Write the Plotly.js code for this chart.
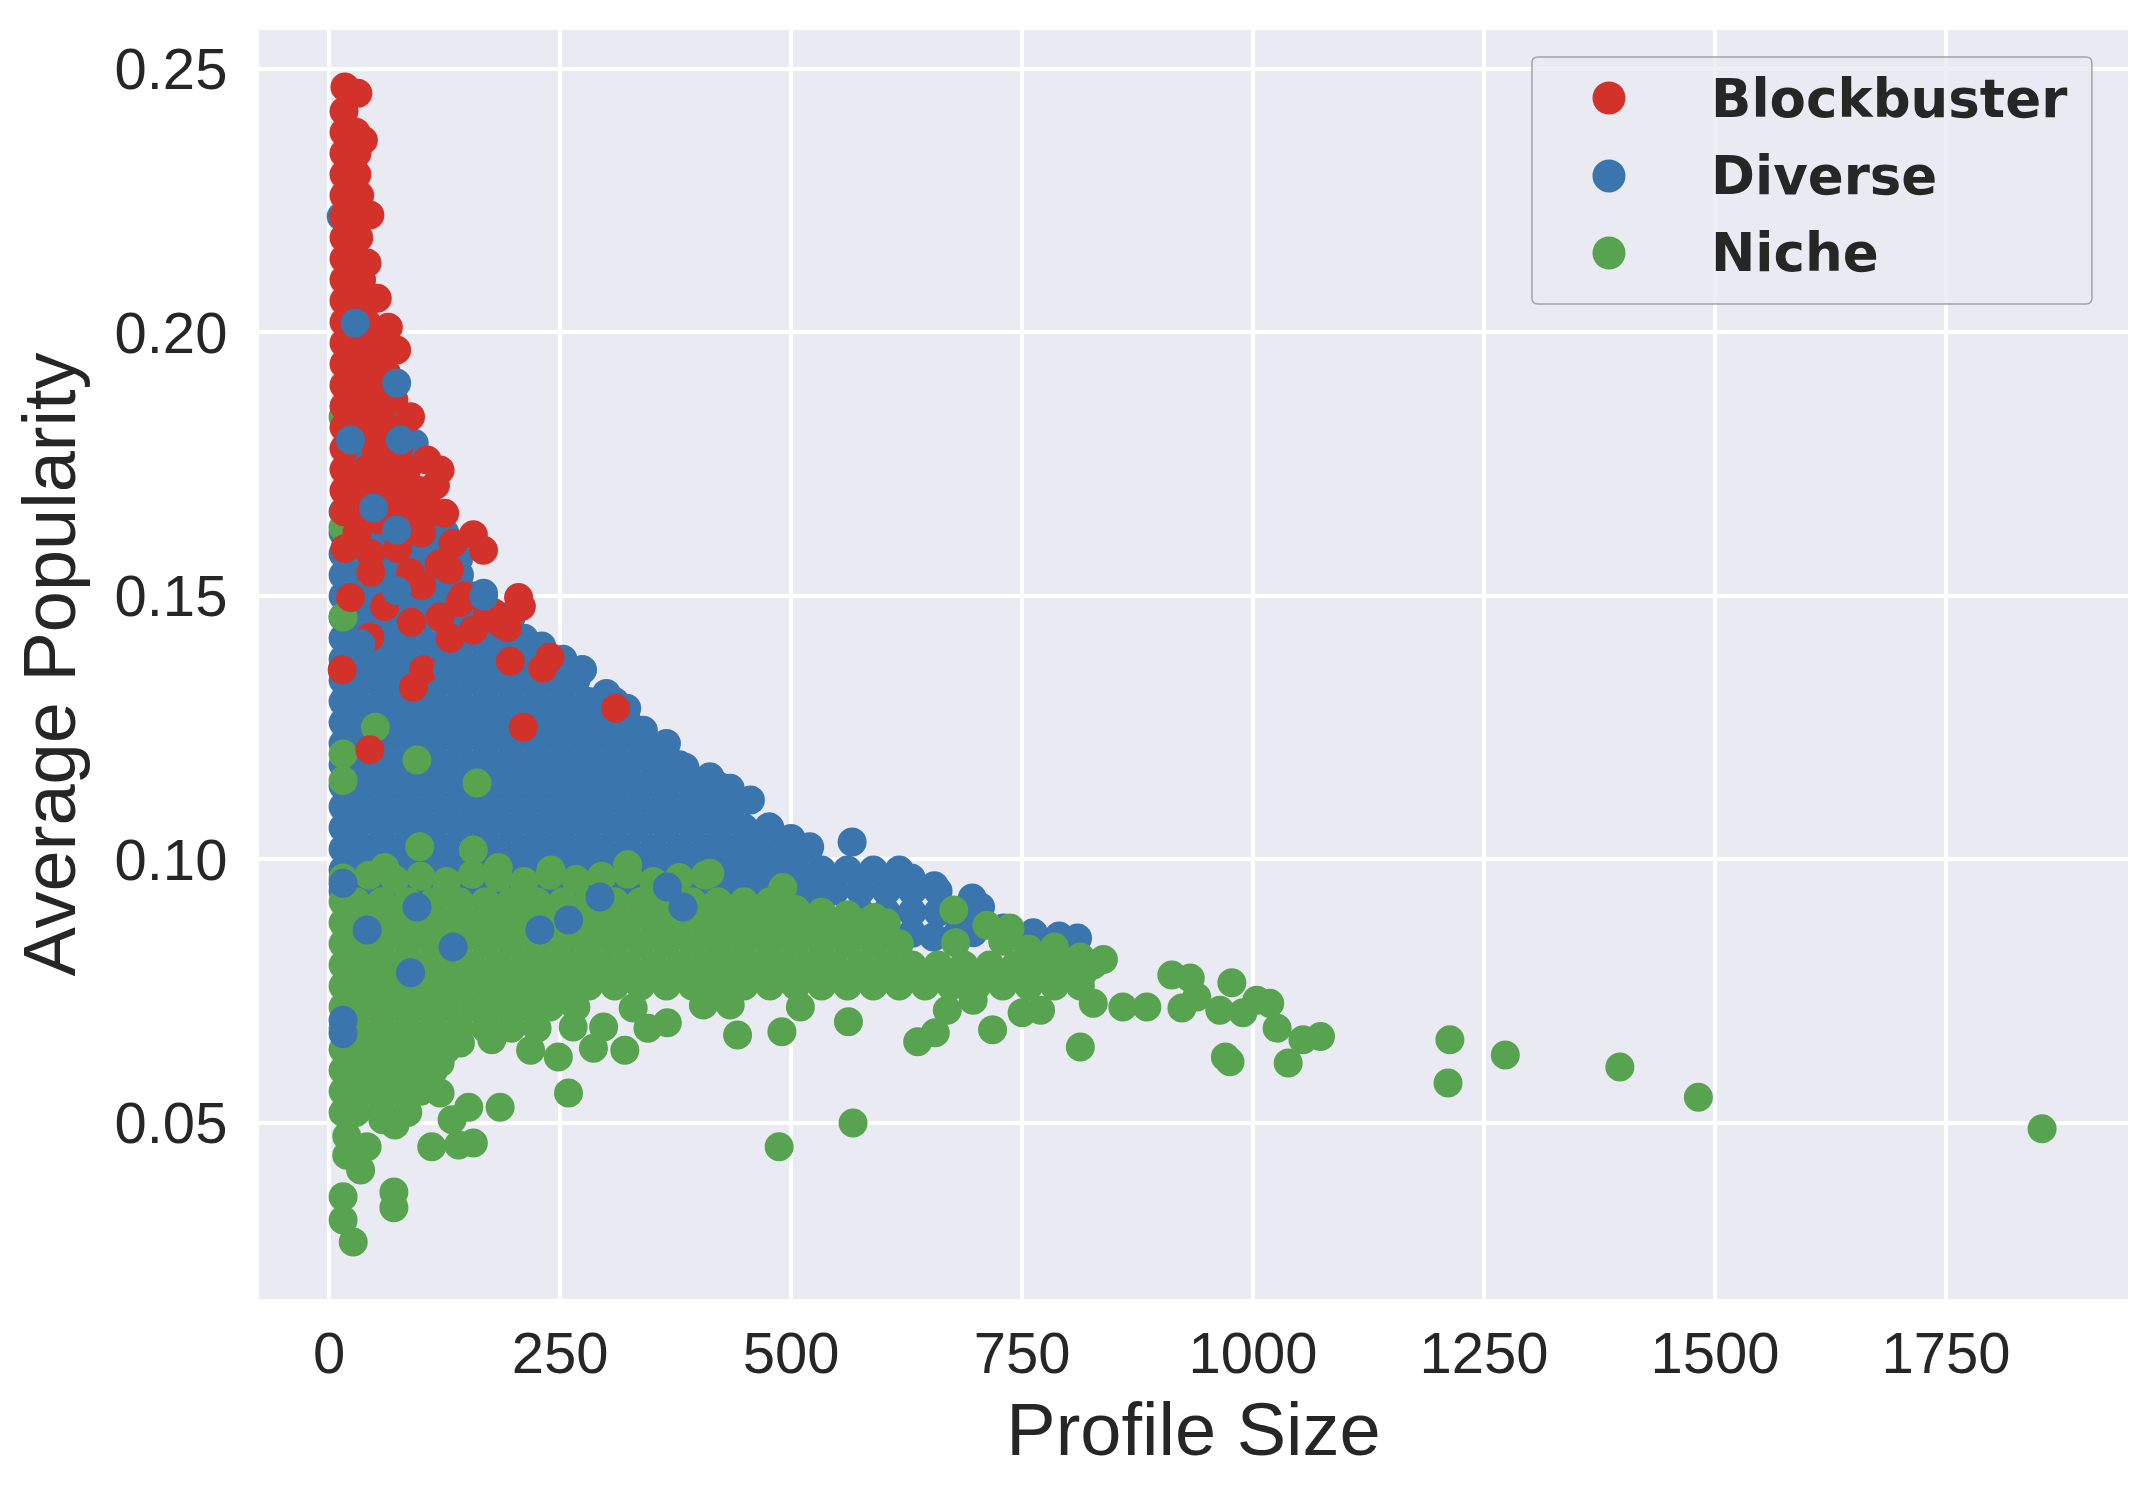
<!DOCTYPE html>
<html>
<head>
<meta charset="utf-8">
<script src="https://cdn.plot.ly/plotly-3.0.1.min.js"></script>
<style>
  html, body { margin: 0; padding: 0; background: #ffffff; }
  #chart { width: 2149px; height: 1499px; }
</style>
</head>
<body>
<div id="chart"></div>
<script>
// Profile size vs average popularity.
// Each entry is [profile size, average popularity].

const diversePoints = [
  [15,0.094],[43,0.094],[71,0.094],[99,0.094],[127,0.094],[155,0.094],[183,0.094],[211,0.094],[239,0.094],[267,0.094],[295,0.094],[323,0.094],[351,0.094],
  [379,0.094],[407,0.094],[435,0.094],[463,0.094],[491,0.094],[519,0.094],[547,0.094],[575,0.094],[603,0.094],[631,0.094],[659,0.094],
  [15,0.098],[29,0.098],[57,0.098],[85,0.098],[113,0.098],[141,0.098],[169,0.098],[197,0.098],[225,0.098],[253,0.098],[281,0.098],[309,0.098],[337,0.098],[365,0.098],[393,0.098],[421,0.098],[449,0.098],[477,0.098],[505,0.098],[533,0.098],[561,0.098],[589,0.098],[617,0.098],
  [15,0.102],[43,0.102],[71,0.102],[99,0.102],[127,0.102],[155,0.102],[183,0.102],[211,0.102],[239,0.102],[267,0.102],[295,0.102],[323,0.102],[351,0.102],[379,0.102],[407,0.102],[435,0.102],[463,0.102],[491,0.102],[519,0.102],
  [15,0.106],[29,0.106],[57,0.106],[85,0.106],[113,0.106],[141,0.106],[169,0.106],[197,0.106],[225,0.106],[253,0.106],[281,0.106],[309,0.106],[337,0.106],[365,0.106],[393,0.106],[421,0.106],[449,0.106],[477,0.106],
  [15,0.110],[43,0.110],[71,0.110],[99,0.110],[127,0.110],[155,0.110],[183,0.110],[211,0.110],[239,0.110],[267,0.110],[295,0.110],[323,0.110],[351,0.110],[379,0.110],[407,0.110],[435,0.110],
  [15,0.114],[29,0.114],[57,0.114],[85,0.114],[113,0.114],[141,0.114],[169,0.114],[197,0.114],[225,0.114],[253,0.114],[281,0.114],[309,0.114],[337,0.114],[365,0.114],[393,0.114],[421,0.114],
  [15,0.118],[43,0.118],[71,0.118],[99,0.118],[127,0.118],[155,0.118],[183,0.118],[211,0.118],[239,0.118],[267,0.118],[295,0.118],[323,0.118],[351,0.118],[379,0.118],
  [15,0.122],[29,0.122],[57,0.122],[85,0.122],[113,0.122],[141,0.122],[169,0.122],[197,0.122],[225,0.122],[253,0.122],[281,0.122],[309,0.122],[337,0.122],[365,0.122],
  [15,0.126],[43,0.126],[71,0.126],[99,0.126],[127,0.126],[155,0.126],[183,0.126],[211,0.126],[239,0.126],[267,0.126],[295,0.126],[323,0.126],
  [15,0.130],[29,0.130],[57,0.130],[85,0.130],[113,0.130],[141,0.130],[169,0.130],[197,0.130],[225,0.130],[253,0.130],[281,0.130],[309,0.130],
  [15,0.134],[43,0.134],[71,0.134],[99,0.134],[127,0.134],[155,0.134],[183,0.134],[211,0.134],[239,0.134],[267,0.134],
  [15,0.138],[29,0.138],[57,0.138],[85,0.138],[113,0.138],[141,0.138],[169,0.138],[197,0.138],[225,0.138],[253,0.138],
  [15,0.142],[43,0.142],[71,0.142],[99,0.142],[127,0.142],[155,0.142],[183,0.142],[211,0.142],
  [15,0.146],[29,0.146],[57,0.146],[85,0.146],[113,0.146],[141,0.146],[169,0.146],[197,0.146],
  [15,0.150],[43,0.150],[71,0.150],[99,0.150],[127,0.150],[155,0.150],
  [15,0.154],[29,0.154],[57,0.154],[85,0.154],[113,0.154],[141,0.154],
  [15,0.158],[43,0.158],[71,0.158],[99,0.158],[127,0.158],
  [15,0.162],[29,0.162],[57,0.162],[85,0.162],[113,0.162],
  [15,0.166],[43,0.166],[71,0.166],[99,0.166],
  [29,0.170],[57,0.170],[85,0.170],
  [43,0.174],[71,0.174],
  [29,0.178],[57,0.178],[85,0.178],
  [43,0.182],[71,0.182],
  [29,0.186],[57,0.186],
  [43,0.190],[71,0.190],
  [29,0.194],
  [43,0.198],
  [29,0.202],
  [13,0.222],
  // upper right edge of the cloud
  [92,0.179],[125,0.162],[140,0.157],[167,0.1505],[190,0.146],[230,0.1405],[274,0.136],[300,0.1315],
  [322,0.1287],[340,0.1245],[362,0.1205],[385,0.1175],[412,0.1157],[434,0.1135],[456,0.1113],[476,0.1062],
  [500,0.104],[520,0.1024],[566,0.1033],[618,0.0974],[630,0.0965],[655,0.095],[696,0.0927],[705,0.091],
  [575,0.090],[603,0.090],[631,0.090],[659,0.090],[687,0.089],
  [631,0.086],[654,0.0853],[680,0.086],[697,0.0861],[730,0.087],[762,0.0861],[790,0.0855],[810,0.0851]
];

// Diverse users that sit on top of the other groups
const diverseFrontPoints = [
  [28,0.2018],[73,0.1904],[77,0.1796],[23,0.1796],[48,0.1667],[73,0.1625],[73,0.151],[34,0.141],
  [128,0.136],[167,0.150],[274,0.136],
  [15,0.0955],[95,0.091],[41,0.0866],[228,0.0866],[259,0.0885],[134,0.0834],[88,0.0785],
  [293,0.0929],[366,0.0948],[383,0.091],[15,0.0695],[15,0.067]
];

const nichePoints = [
  [15,0.0965],[43,0.097],[71,0.0962],[99,0.0968],[127,0.0958],[155,0.0972],[183,0.0966],[211,0.0958],[239,0.097],[267,0.0962],[295,0.0968],[323,0.0972],[351,0.0958],[379,0.0966],[407,0.097],
  [183,0.0985],[240,0.098],[323,0.099],[60,0.0985],
  [15,0.092],[29,0.092],[57,0.092],[85,0.092],[113,0.092],[141,0.092],[169,0.092],[197,0.092],[225,0.092],[253,0.092],[281,0.092],[309,0.092],[337,0.092],[365,0.092],[393,0.092],[421,0.092],[449,0.092],[477,0.092],
  [505,0.0905],[533,0.090],[561,0.0895],[590,0.089],
  [15,0.088],[43,0.088],[71,0.088],[99,0.088],[127,0.088],[155,0.088],[183,0.088],[211,0.088],[239,0.088],[267,0.088],[295,0.088],[323,0.088],[351,0.088],[379,0.088],[407,0.088],[435,0.088],[463,0.088],[491,0.088],[519,0.088],[547,0.088],[575,0.088],[603,0.088],
  [676,0.0904],[712,0.0875],[737,0.087],
  [15,0.084],[29,0.084],[57,0.084],[85,0.084],[113,0.084],[141,0.084],[169,0.084],[197,0.084],[225,0.084],[253,0.084],[281,0.084],[309,0.084],[337,0.084],[365,0.084],[393,0.084],[421,0.084],[449,0.084],[477,0.084],[505,0.084],[533,0.084],[561,0.084],[589,0.084],[617,0.084],
  [678,0.0842],[729,0.0845],[757,0.083],[785,0.0834],[813,0.0815],[838,0.081],
  [15,0.080],[43,0.080],[71,0.080],[99,0.080],[127,0.080],[155,0.080],[183,0.080],[211,0.080],[239,0.080],[267,0.080],[295,0.080],[323,0.080],[351,0.080],[379,0.080],[407,0.080],[435,0.080],[463,0.080],[491,0.080],[519,0.080],[547,0.080],[575,0.080],[603,0.080],[631,0.080],[659,0.080],[687,0.080],[715,0.080],[743,0.080],[771,0.080],[799,0.080],[827,0.080],
  [15,0.076],[29,0.076],[57,0.076],[85,0.076],[113,0.076],[141,0.076],[169,0.076],[197,0.076],[225,0.076],[253,0.076],[281,0.076],[309,0.076],[337,0.076],[365,0.076],[393,0.076],[421,0.076],[449,0.076],[477,0.076],[505,0.076],[533,0.076],[561,0.076],[589,0.076],[617,0.076],[645,0.076],[673,0.076],[701,0.076],[729,0.076],[757,0.076],[785,0.076],[813,0.076],
  [15,0.072],[43,0.072],[71,0.072],[99,0.072],[127,0.072],[155,0.072],[183,0.072],[211,0.072],[239,0.072],[267,0.072],
  [15,0.068],[29,0.068],[57,0.068],[85,0.068],[113,0.068],[141,0.068],[169,0.068],[197,0.068],[225,0.068],
  [15,0.064],[43,0.064],[71,0.064],[99,0.064],[127,0.064],
  [15,0.060],[29,0.060],[57,0.060],[85,0.060],[113,0.060],
  [15,0.056],[43,0.056],[71,0.056],[99,0.056],
  [15,0.052],[29,0.052],[57,0.052],[85,0.052],
  // sparse points under the band and the long tail
  [19,0.0475],[19,0.0439],[34,0.0411],[41,0.0455],[71,0.0496],[58,0.0506],[15,0.036],[15,0.0316],[26,0.0274],
  [70,0.0369],[70,0.0339],[111,0.0455],[140,0.0458],[156,0.0462],[133,0.0506],[151,0.053],[185,0.053],
  [120,0.0557],[120,0.0614],[259,0.0557],[142,0.0652],[176,0.0658],[218,0.0638],[248,0.0625],[286,0.0642],
  [320,0.0638],[264,0.0682],[297,0.0682],[345,0.068],[366,0.069],[329,0.0718],[405,0.0724],[434,0.0724],
  [442,0.0667],[490,0.0673],[510,0.072],[562,0.0692],[637,0.0654],[656,0.0671],[669,0.0714],[697,0.0733],
  [718,0.0677],[750,0.0709],[770,0.0714],[813,0.0644],[827,0.0727],[859,0.072],[885,0.072],[816,0.0785],
  [912,0.0781],[932,0.0775],[923,0.0718],[939,0.0739],[964,0.0714],[977,0.0766],[989,0.0709],[1004,0.0733],
  [1018,0.0727],[1026,0.068],[970,0.0625],[975,0.0616],[1038,0.0614],[1054,0.0658],[1073,0.0664],
  [1211,0.0576],[1213,0.0658],[1273,0.0629],[1397,0.0606],[1482,0.0549],[1854,0.0489],[487,0.0455],[567,0.050],
  // niche users poking into the diverse cloud
  [98,0.1024],[156,0.1018],[295,0.0967],[412,0.0974],[491,0.0947],[50,0.1251],[95,0.1189],[160,0.1145],
  [15,0.146],[15,0.163],[15,0.115],[15,0.184],[15,0.12]
];

const blockbusterPoints = [
  [17,0.2466],[31,0.2454],[16,0.242],[16,0.238],[29,0.238],[37,0.2365],[16,0.234],[30,0.234],
  [16,0.230],[30,0.230],[16,0.226],[33,0.226],[16,0.222],[30,0.222],[44,0.2223],[16,0.218],[32,0.218],
  [16,0.214],[30,0.214],[41,0.2132],[16,0.210],[35,0.210],[16,0.206],[30,0.206],[52,0.2065],
  [16,0.202],[40,0.202],[64,0.201],[16,0.198],[37,0.198],[58,0.198],[73,0.1967],
  [16,0.194],[28,0.194],[48,0.194],[62,0.1923],[16,0.190],[40,0.190],[62,0.190],[16,0.186],[30,0.186],[50,0.186],[70,0.1872],
  [16,0.182],[40,0.182],[62,0.182],[88,0.184],[16,0.178],[50,0.178],[75,0.178],
  [16,0.174],[40,0.174],[62,0.174],[84,0.174],[106,0.1758],[120,0.1739],
  [16,0.170],[30,0.170],[52,0.170],[75,0.170],[98,0.170],[115,0.171],
  [16,0.166],[42,0.166],[65,0.166],[88,0.166],[112,0.166],[125,0.1657],
  [30,0.162],[55,0.1644],[77,0.1612],[100,0.162],[134,0.160],[156,0.1616],[167,0.1587],
  [17,0.159],[45,0.158],[74,0.159],[119,0.156],[88,0.1544],[45,0.1545],[130,0.155],[100,0.152],
  [145,0.150],[205,0.1497],[208,0.148],[23,0.1497],[60,0.148],[141,0.1487],[171,0.147],[178,0.1468],
  [120,0.146],[89,0.145],[193,0.144],[185,0.1449],[156,0.1435],
  [131,0.142],[44,0.1422],[239,0.1384],[231,0.1363],[196,0.1376],[14,0.136],[102,0.136],
  [91,0.1327],[310,0.1287],[210,0.1251],[44,0.1208]
];

const groupNames = ['Blockbuster', 'Diverse', 'Niche'];
const groupColors = ['#d3322a', '#3a75ad', '#58a34f'];
const xTickVals = [0, 250, 500, 750, 1000, 1250, 1500, 1750];
const yTickVals = [0.05, 0.10, 0.15, 0.20, 0.25];
const yTickText = ['0.05', '0.10', '0.15', '0.20', '0.25'];

const textColor = '#262626';
const markerSize = 29;

function cloud(points, name, color) {
  return {
    x: points.map(p => p[0]),
    y: points.map(p => p[1]),
    type: 'scatter',
    mode: 'markers',
    name: name,
    showlegend: false,
    marker: { color: color, size: markerSize, line: { width: 0 } },
    hovertemplate: name + '<br>Profile size: %{x}<br>Avg popularity: %{y:.3f}<extra></extra>'
  };
}

// draw order: diverse (back), niche, blockbuster, then the few diverse on top
const data = [
  cloud(diversePoints, groupNames[1], groupColors[1]),
  cloud(nichePoints, groupNames[2], groupColors[2]),
  cloud(blockbusterPoints, groupNames[0], groupColors[0]),
  cloud(diverseFrontPoints, groupNames[1], groupColors[1])
];

// hand-made legend (plotly caps legend marker size)
const legBox = { x0: 0.6811, x1: 0.9807, y0: 0.7841, y1: 0.9787, rx: 0.0032, ry: 0.0047 };
const legRowsY = [0.9464, 0.8850, 0.8243];
const legMarkX = 0.7223;
const legTextX = 0.7758;

const boxPath = [
  'M', legBox.x0 + legBox.rx, legBox.y1,
  'L', legBox.x1 - legBox.rx, legBox.y1,
  'Q', legBox.x1, legBox.y1, legBox.x1, legBox.y1 - legBox.ry,
  'L', legBox.x1, legBox.y0 + legBox.ry,
  'Q', legBox.x1, legBox.y0, legBox.x1 - legBox.rx, legBox.y0,
  'L', legBox.x0 + legBox.rx, legBox.y0,
  'Q', legBox.x0, legBox.y0, legBox.x0, legBox.y0 + legBox.ry,
  'L', legBox.x0, legBox.y1 - legBox.ry,
  'Q', legBox.x0, legBox.y1, legBox.x0 + legBox.rx, legBox.y1, 'Z'
].join(' ');

const shapes = [{
  type: 'path', xref: 'paper', yref: 'paper', path: boxPath,
  fillcolor: 'rgba(234,234,242,0.8)', line: { color: '#a3a3a3', width: 1.5 }, layer: 'above'
}];
const annotations = [];
groupNames.forEach((g, i) => {
  shapes.push({
    type: 'circle', xref: 'paper', yref: 'paper',
    xsizemode: 'pixel', ysizemode: 'pixel',
    xanchor: legMarkX, yanchor: legRowsY[i],
    x0: -16.5, x1: 16.5, y0: -16.5, y1: 16.5,
    fillcolor: groupColors[i], line: { width: 0 }, layer: 'above'
  });
  annotations.push({
    xref: 'paper', yref: 'paper', x: legTextX, y: legRowsY[i],
    xanchor: 'left', yanchor: 'middle', showarrow: false, text: g,
    font: { family: 'DejaVu Sans', size: 53, weight: 'bold', color: textColor }
  });
});

const axisFont = { family: 'Liberation Sans, Arial, sans-serif', size: 58, color: textColor };
const titleFont = { family: 'Liberation Sans, Arial, sans-serif', size: 74, color: textColor };

const layout = {
  width: 2149,
  height: 1499,
  margin: { l: 259, r: 21, t: 30, b: 200 },
  paper_bgcolor: '#ffffff',
  plot_bgcolor: '#eaeaf2',
  showlegend: false,
  hovermode: 'closest',
  xaxis: {
    range: [-76, 1947],
    tickmode: 'array',
    tickvals: xTickVals,
    ticks: 'outside', ticklen: 3, tickcolor: 'rgba(0,0,0,0)',
    tickfont: axisFont,
    showgrid: true, gridcolor: '#ffffff', gridwidth: 4,
    zeroline: false, showline: false,
    title: { text: 'Profile Size', font: titleFont, standoff: 19 }
  },
  yaxis: {
    range: [0.0166, 0.2574],
    tickmode: 'array',
    tickvals: yTickVals,
    ticktext: yTickText,
    ticks: 'outside', ticklen: 19, tickcolor: 'rgba(0,0,0,0)',
    tickfont: axisFont,
    showgrid: true, gridcolor: '#ffffff', gridwidth: 4,
    zeroline: false, showline: false,
    title: { text: 'Average Popularity', font: titleFont, standoff: 14 }
  },
  shapes: shapes,
  annotations: annotations
};

Plotly.newPlot('chart', data, layout, { displayModeBar: false, responsive: false });
</script>
</body>
</html>
